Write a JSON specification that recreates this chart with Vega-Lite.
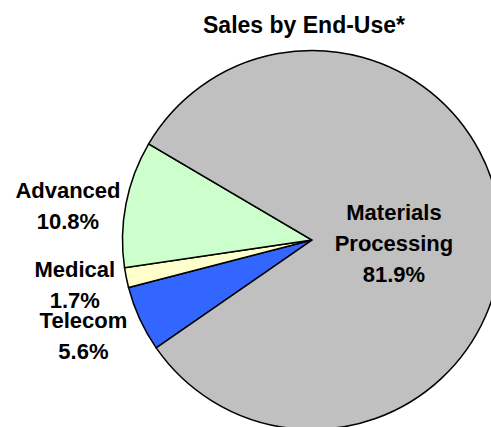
{
  "$schema": "https://vega.github.io/schema/vega-lite/v6.json",
  "width": 624,
  "height": 400,
  "autosize": {"type": "none"},
  "padding": {"left": 0, "top": 40, "right": 0, "bottom": 0},
  "background": "white",
  "config": {"view": {"stroke": null}, "font": "Liberation Sans"},
  "title": {
    "text": "Sales by End-Use*",
    "font": "Liberation Sans",
    "fontSize": 23,
    "fontWeight": "bold",
    "color": "black",
    "anchor": "middle",
    "frame": "group",
    "dx": -8,
    "dy": 25,
    "baseline": "alphabetic",
    "offset": 9
  },
  "data": {
    "values": [
      {"category": "Telecom", "pct": 5.6, "ord": 1},
      {"category": "Medical", "pct": 1.7, "ord": 2},
      {"category": "Advanced", "pct": 10.8, "ord": 3},
      {"category": "Materials Processing", "pct": 81.9, "ord": 4}
    ]
  },
  "transform": [
    {"calculate": "replace(datum.category, ' ', '\\n') + '\\n' + format(datum.pct, '.1f') + '%'", "as": "label"}
  ],
  "encoding": {
    "theta": {"field": "pct", "type": "quantitative", "stack": true, "scale": {"range": [4.107, 10.390]}},
    "order": {"field": "ord", "type": "quantitative"}
  },
  "layer": [
    {
      "mark": {"type": "arc", "radius": 189.5, "stroke": "black", "strokeWidth": 1.5},
      "encoding": {
        "color": {
          "field": "category",
          "type": "nominal",
          "scale": {
            "domain": ["Telecom", "Medical", "Advanced", "Materials Processing"],
            "range": ["#3366FF", "#FFFFCC", "#CCFFCC", "#C0C0C0"]
          },
          "legend": null
        }
      }
    },
    {
      "mark": {"type": "text", "radius": 214, "dx": -34, "dy": -1, "font": "Liberation Sans", "fontSize": 22, "fontWeight": "bold", "color": "black", "lineBreak": "\n", "lineHeight": 31, "align": "center", "baseline": "alphabetic"},
      "encoding": {
        "text": {"condition": {"test": "datum.category === 'Advanced' || datum.category === 'Telecom'", "field": "label"}, "value": ""}
      }
    },
    {
      "mark": {"type": "text", "radius": 240, "dx": -2, "dy": -11, "font": "Liberation Sans", "fontSize": 22, "fontWeight": "bold", "color": "black", "lineBreak": "\n", "lineHeight": 31, "align": "center", "baseline": "alphabetic"},
      "encoding": {
        "text": {"condition": {"test": "datum.category === 'Medical'", "field": "label"}, "value": ""}
      }
    },
    {
      "mark": {"type": "text", "radius": 82, "dx": 0, "dy": -17, "font": "Liberation Sans", "fontSize": 22, "fontWeight": "bold", "color": "black", "lineBreak": "\n", "lineHeight": 31, "align": "center", "baseline": "alphabetic"},
      "encoding": {
        "text": {"condition": {"test": "datum.category === 'Materials Processing'", "field": "label"}, "value": ""}
      }
    }
  ]
}
